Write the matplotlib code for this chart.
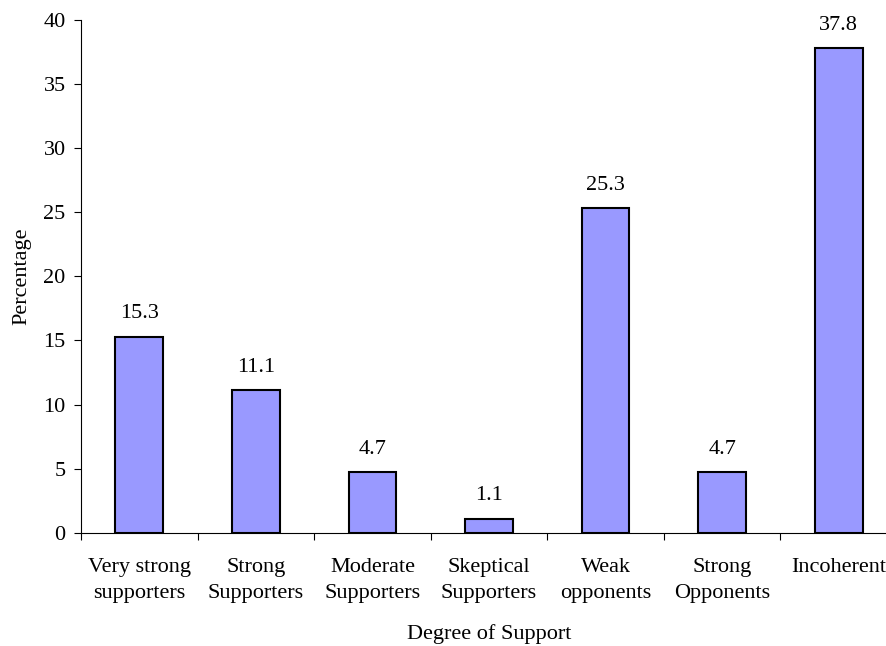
import matplotlib
matplotlib.use("Agg")
import matplotlib.pyplot as plt
import numpy as np

categories = ["Very strong\nsupporters", "Strong\nSupporters", "Moderate\nSupporters",
              "Skeptical\nSupporters", "Weak\nopponents", "Strong\nOpponents", "Incoherent"]
percentages = [15.3, 11.1, 4.7, 1.1, 25.3, 4.7, 37.8]
y_ticks = [0, 5, 10, 15, 20, 25, 30, 35, 40]

plt.rcParams["font.family"] = ["Liberation Serif", "DejaVu Serif"]
FS = 16

W, H = 887, 646
fig = plt.figure(figsize=(W / 100, H / 100), dpi=100)
ax_left, ax_right = 81, 897
ax_top, ax_bottom = 20, 532.7
ax = fig.add_axes([ax_left / W, 1 - ax_bottom / H,
                   (ax_right - ax_left) / W, (ax_bottom - ax_top) / H])

x = np.arange(len(categories))
ax.bar(x, percentages, width=0.41, color="#9999FF", edgecolor="black", linewidth=1.5, zorder=3)

for xi, v in zip(x, percentages):
    ax.annotate(f"{v:.1f}", (xi, v), xytext=(0, 9.5), textcoords="offset points",
                ha="center", va="bottom", fontsize=FS)

ax.set_xlim(-0.5, len(categories) - 0.5)
ax.set_ylim(0, 40)
ax.set_yticks(y_ticks)
ax.set_yticklabels([str(t) for t in y_ticks], fontsize=FS)

ax.set_xticks(x)
ax.set_xticklabels(categories, fontsize=FS, linespacing=1.55)
ax.set_xticks(np.arange(len(categories) + 1) - 0.5, minor=True)
ax.tick_params(axis="x", which="major", length=0, pad=18)
ax.tick_params(axis="x", which="minor", length=5, width=0.8, direction="out")
ax.tick_params(axis="y", length=5, width=0.8, direction="out", pad=6)

for side in ("top", "right"):
    ax.spines[side].set_visible(False)
for side in ("left", "bottom"):
    ax.spines[side].set_linewidth(0.8)

fig.text(22 / W, 1 - 276 / H, "Percentage", rotation=90, ha="center", va="center", fontsize=FS)
fig.text(489 / W, 1 - 634 / H, "Degree of Support", ha="center", va="center", fontsize=FS)

fig.savefig("out.png", dpi=100)
